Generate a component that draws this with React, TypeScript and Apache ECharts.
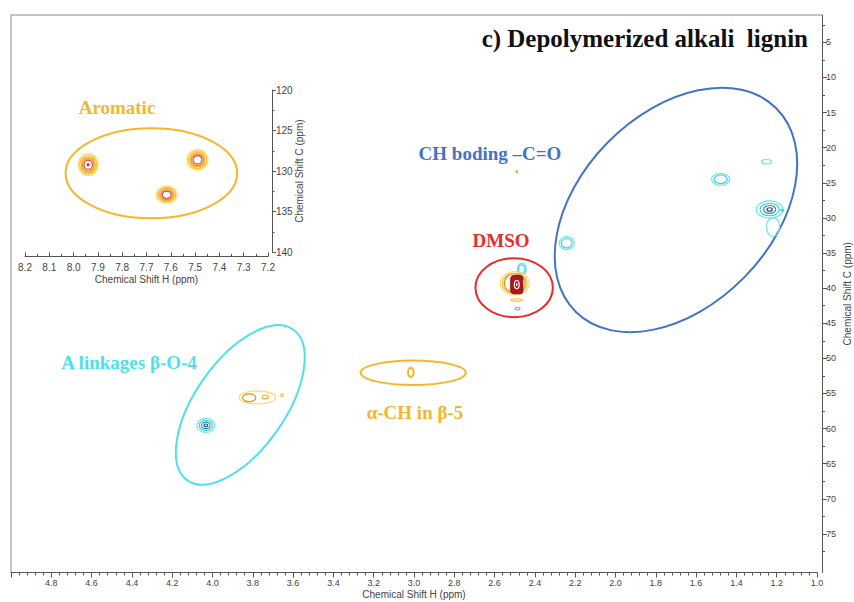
import React, { useEffect, useRef } from "react";
import * as echarts from "echarts";

// ---- axis ticks ----
const mainCTicks = [5, 10, 15, 20, 25, 30, 35, 40, 45, 50, 55, 60, 65, 70, 75];
const mainCMinorTicks = [2.5, 7.5, 12.5, 17.5, 22.5, 27.5, 32.5, 37.5, 42.5, 47.5, 52.5, 57.5, 62.5, 67.5, 72.5, 77.5];

// ---- cross-peaks: [1H ppm, 13C ppm, half-width H (ppm), half-width C (ppm), contour count, first contour level] ----
const cyanPeaks = [
  [4.033, 59.55, 0.045, 1.0, 4, 0],
  [2.242, 33.6, 0.037, 0.93, 2, 0],
  [1.478, 24.5, 0.045, 0.85, 2, 0],
  [1.25, 22.0, 0.025, 0.32, 1, 0],
  [1.218, 31.3, 0.033, 1.35, 1, 0],
  [1.235, 28.8, 0.066, 1.23, 4, 0],
  [1.172, 28.9, 0.008, 0.15, 1, 1],
  [2.465, 37.3, 0.022, 0.85, 2, 0],
  [2.486, 42.9, 0.012, 0.18, 1, 1],
];

const goldPeaks = [
  [3.777, 55.57, 0.091, 0.93, 1, 0],
  [3.818, 55.6, 0.033, 0.55, 1, 3],
  [3.738, 55.5, 0.015, 0.28, 1, 2],
  [3.655, 55.25, 0.006, 0.18, 1, 1],
  [3.016, 52.0, 0.017, 0.78, 3, 0],
  [2.49, 23.4, 0.005, 0.15, 1, 2],
  [2.5, 39.3, 0.072, 1.65, 2, 0],
  [2.5, 39.3, 0.052, 1.35, 1, 3],
  [2.49, 41.7, 0.03, 0.18, 1, 1],
];

// solvent (DMSO-d6) core: [1H, 13C, half-width H, half-width C]
const solventPeak = [[2.49, 39.5, 0.03, 1.3]];

// aromatic region (inset)
const aromaticPeaks = [
  [7.94, 129.2, 0.041, 1.35, 6, 0],
  [7.49, 128.6, 0.043, 1.25, 5, 0],
  [7.617, 132.9, 0.043, 1.05, 5, 0],
];

// ---- region outlines: [1H centre, 13C centre, semi-axis (H ppm), semi-axis (C ppm), tilt deg] ----
const regionNames = ["A linkages β-O-4", "α-CH in β-5", "DMSO", "CH boding –C=O"];
const regionShapes = [
  [3.862, 56.63, 0.457, 6.4, 55],
  [3.004, 52.05, 0.261, 1.74, 0],
  [2.503, 39.93, 0.192, 4.2, 0],
  [1.7, 28.87, 0.709, 13.67, 45.6],
];
const aromaticRegion = [[7.68, 130.26, 0.353, 5.54, 0]];

const GOLD = "#F5B62C";
const CYAN = "#4FE1E9";
const BLUE = "#4472C4";
const RED = "#EA2B2B";
const regionColors = [CYAN, GOLD, RED, BLUE];

const goldPalette = ["#FCDB6E", "#F7C52E", "#F1AE28", "#E98A2E", "#D4432B", "#B82A2A"];
const goldScales = [1, 0.86, 0.72, 0.58, 0.42, 0.1];
const cyanPalette = ["#66E6EE", "#3ED0DC", "#2E8CB0", "#23507E"];
const cyanScales = [1, 0.72, 0.46, 0.2];

const SANS = "'Liberation Sans', Arial, sans-serif";
const SERIF = "'Liberation Serif', 'Times New Roman', serif";
const AXIS_COLOR = "#555";
const LABEL_COLOR = "#444";

function contourSeries(data: number[][], palette: string[], scales: number[], xAxisIndex: number, yAxisIndex: number) {
  return {
    type: "custom",
    xAxisIndex,
    yAxisIndex,
    data,
    encode: { x: 0, y: 1 },
    silent: true,
    renderItem: (params: any, api: any) => {
      const c = api.coord([api.value(0), api.value(1)]);
      const s = api.size([api.value(2), api.value(3)]);
      const n = api.value(4);
      const start = api.value(5);
      const children: any[] = [];
      for (let k = 0; k < n; k++) {
        const f = scales[k];
        children.push({
          type: "ellipse",
          shape: { cx: c[0], cy: c[1], rx: Math.max(s[0] * f, 0.8), ry: Math.max(s[1] * f, 0.8) },
          style: { fill: "none", stroke: palette[Math.min(start + k, palette.length - 1)], lineWidth: 1.2 },
        });
      }
      return { type: "group", children };
    },
  };
}

function regionSeries(data: number[][], colors: string[], xAxisIndex: number, yAxisIndex: number) {
  return {
    type: "custom",
    xAxisIndex,
    yAxisIndex,
    data,
    encode: { x: 0, y: 1 },
    silent: true,
    renderItem: (params: any, api: any) => {
      const c = api.coord([api.value(0), api.value(1)]);
      const s = api.size([api.value(2), api.value(3)]);
      return {
        type: "ellipse",
        x: c[0],
        y: c[1],
        rotation: (api.value(4) * Math.PI) / 180,
        shape: { cx: 0, cy: 0, rx: s[0], ry: s[1] },
        style: { fill: "none", stroke: colors[params.dataIndex], lineWidth: 2 },
      };
    },
  };
}

export default function App() {
  const ref = useRef<HTMLDivElement>(null);

  useEffect(() => {
    if (!ref.current) return;
    const chart = echarts.init(ref.current, null, { renderer: "svg" });

    const tickLabel = { fontFamily: SANS, fontSize: 9, color: LABEL_COLOR };
    const nameStyle = { fontFamily: SANS, fontSize: 10, color: LABEL_COLOR };

    const option: any = {
      animation: false,
      backgroundColor: "#ffffff",
      grid: [
        { left: 11, top: 15, width: 806, height: 557.5, show: false, containLabel: false, outerBoundsMode: "none" },
        { left: 25, top: 90, width: 243, height: 162.3, show: false, containLabel: false, outerBoundsMode: "none" },
      ],
      xAxis: [
        {
          gridIndex: 0,
          type: "value",
          min: 1,
          max: 5,
          inverse: true,
          interval: 0.2,
          axisLine: { show: true, lineStyle: { color: AXIS_COLOR, width: 1 } },
          axisTick: { show: true, length: 5, lineStyle: { color: AXIS_COLOR } },
          minorTick: { show: true, splitNumber: 5, length: 3, lineStyle: { color: AXIS_COLOR } },
          splitLine: { show: false },
          axisLabel: { ...tickLabel, margin: 6, showMaxLabel: false, formatter: (v: number) => v.toFixed(1) },
          name: "Chemical Shift H (ppm)",
          nameLocation: "middle",
          nameGap: 17,
          nameMoveOverlap: false,
          nameTextStyle: nameStyle,
        },
        {
          gridIndex: 1,
          type: "value",
          min: 7.2,
          max: 8.2,
          inverse: true,
          interval: 0.1,
          offset: 4,
          axisLine: { show: true, lineStyle: { color: AXIS_COLOR, width: 1 } },
          axisTick: { show: true, inside: true, length: 4, lineStyle: { color: AXIS_COLOR } },
          minorTick: { show: true, splitNumber: 2, length: 2.5, lineStyle: { color: AXIS_COLOR } },
          splitLine: { show: false },
          axisLabel: { ...tickLabel, fontSize: 10, margin: 6, formatter: (v: number) => v.toFixed(1) },
          name: "Chemical Shift H (ppm)",
          nameLocation: "middle",
          nameGap: 18,
          nameMoveOverlap: false,
          nameTextStyle: nameStyle,
        },
      ],
      yAxis: [
        {
          gridIndex: 0,
          type: "value",
          min: 1.1,
          max: 80.5,
          inverse: true,
          position: "right",
          offset: 5,
          axisLine: { show: true, lineStyle: { color: AXIS_COLOR, width: 1 } },
          axisTick: { show: true, length: 5, customValues: mainCTicks, lineStyle: { color: AXIS_COLOR } },
          splitLine: { show: false },
          axisLabel: { ...tickLabel, margin: 4, customValues: mainCTicks },
          name: "Chemical Shift C (ppm)",
          nameLocation: "middle",
          nameRotate: 90,
          nameGap: 20,
          nameMoveOverlap: false,
          nameTextStyle: nameStyle,
        },
        {
          gridIndex: 0,
          type: "value",
          min: 1.1,
          max: 80.5,
          inverse: true,
          position: "right",
          offset: 5,
          axisLine: { show: false },
          axisTick: { show: true, length: 3, customValues: mainCMinorTicks, lineStyle: { color: AXIS_COLOR } },
          splitLine: { show: false },
          axisLabel: { show: false },
        },
        {
          gridIndex: 1,
          type: "value",
          min: 120,
          max: 140,
          inverse: true,
          interval: 5,
          position: "right",
          offset: 4,
          axisLine: { show: true, lineStyle: { color: AXIS_COLOR, width: 1 } },
          axisTick: { show: true, length: 4, lineStyle: { color: AXIS_COLOR } },
          minorTick: { show: true, splitNumber: 2, length: 2.5, lineStyle: { color: AXIS_COLOR } },
          splitLine: { show: false },
          axisLabel: { ...tickLabel, fontSize: 10, margin: 4 },
          name: "Chemical Shift C (ppm)",
          nameLocation: "middle",
          nameRotate: 90,
          nameGap: 22,
          nameMoveOverlap: false,
          nameTextStyle: nameStyle,
        },
      ],
      series: [
        regionSeries(regionShapes, regionColors, 0, 0),
        regionSeries(aromaticRegion, [GOLD], 1, 2),
        contourSeries(cyanPeaks, cyanPalette, cyanScales, 0, 0),
        contourSeries(goldPeaks, goldPalette, goldScales, 0, 0),
        {
          type: "custom",
          xAxisIndex: 0,
          yAxisIndex: 0,
          data: solventPeak,
          encode: { x: 0, y: 1 },
          silent: true,
          renderItem: (params: any, api: any) => {
            const c = api.coord([api.value(0), api.value(1)]);
            const s = api.size([api.value(2), api.value(3)]);
            return {
              type: "group",
              children: [
                {
                  type: "rect",
                  shape: { x: c[0] - s[0], y: c[1] - s[1], width: 2 * s[0], height: 2 * s[1], r: 3 },
                  style: { fill: "#B0151C", stroke: "#8E0E14", lineWidth: 1 },
                },
                {
                  type: "ellipse",
                  shape: { cx: c[0], cy: c[1], rx: s[0] * 0.4, ry: s[1] * 0.45 },
                  style: { fill: "none", stroke: "#ffffff", lineWidth: 1.2 },
                },
                {
                  type: "ellipse",
                  shape: { cx: c[0], cy: c[1], rx: 0.8, ry: 1.5 },
                  style: { fill: "#ffffff", stroke: "none" },
                },
              ],
            };
          },
        },
        contourSeries(aromaticPeaks, goldPalette, goldScales, 1, 2),
      ],
      graphic: [
        { type: "line", shape: { x1: 11, y1: 15, x2: 822, y2: 15 }, style: { stroke: "#8a8a8a", lineWidth: 1 } },
        { type: "line", shape: { x1: 11, y1: 15, x2: 11, y2: 572.5 }, style: { stroke: "#8a8a8a", lineWidth: 1 } },
        {
          type: "text",
          x: 808,
          y: 38,
          style: { text: "c) Depolymerized alkali  lignin", font: `bold 25px ${SERIF}`, fill: "#111", align: "right", verticalAlign: "middle" },
        },
        {
          type: "text",
          x: 117,
          y: 107,
          style: { text: "Aromatic", font: `bold 19px ${SERIF}`, fill: GOLD, align: "center", verticalAlign: "middle" },
        },
        {
          type: "text",
          x: 129,
          y: 362,
          style: { text: regionNames[0], font: `bold 19px ${SERIF}`, fill: CYAN, align: "center", verticalAlign: "middle" },
        },
        {
          type: "text",
          x: 415,
          y: 412,
          style: { text: regionNames[1], font: `bold 19px ${SERIF}`, fill: GOLD, align: "center", verticalAlign: "middle" },
        },
        {
          type: "text",
          x: 501,
          y: 240,
          style: { text: regionNames[2], font: `bold 19px ${SERIF}`, fill: RED, align: "center", verticalAlign: "middle" },
        },
        {
          type: "text",
          x: 490,
          y: 153,
          style: { text: regionNames[3], font: `bold 19px ${SERIF}`, fill: BLUE, align: "center", verticalAlign: "middle" },
        },
      ],
    };

    chart.setOption(option);
    return () => chart.dispose();
  }, []);

  return <div ref={ref} style={{ position: "fixed", left: 0, top: 0, width: 854, height: 602, background: "#fff" }} />;
}
